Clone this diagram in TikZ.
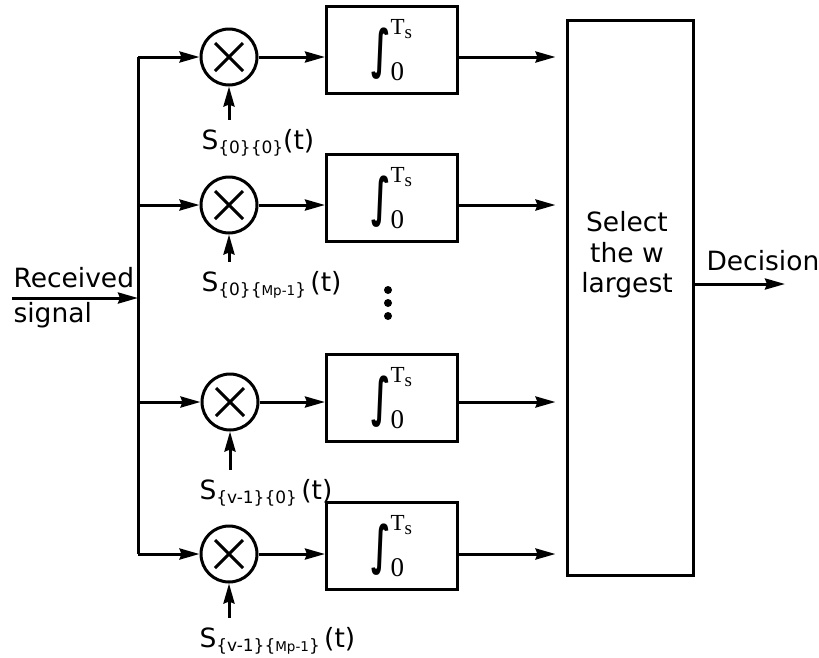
\documentclass[tikz,border=0pt]{standalone}
\usepackage{amsmath}
\usepackage{graphicx}
\usepackage{fontspec}
\setmainfont{DejaVu Sans}
\newfontfamily\limfont{Liberation Serif}
\usetikzlibrary{arrows.meta,calc}

\newcommand{\subfnt}{\fontsize{17}{17}\selectfont}
\newcommand{\subsubfnt}{\fontsize{13.5}{13.5}\selectfont}
\newcommand{\intsign}{\vcenter{\hbox{\scalebox{1.05}[1.75]{\fontsize{30}{30}\selectfont\bfseries ∫}}}}
\newcommand{\intTs}{$\mathop{\intsign}\nolimits_{\hbox{\limfont\fontsize{27}{27}\selectfont 0}}^{\hbox{\limfont\fontsize{23}{23}\selectfont T\raisebox{-0.4ex}{\fontsize{19}{19}\selectfont s}}}$}

\begin{document}
\begin{tikzpicture}[x=1pt,y=-1pt,line width=3pt,
  >={Stealth[length=20pt,width=11pt,inset=2pt]},
  every node/.style={font=\fontsize{26.5}{30.5}\selectfont},
  mixer/.style={draw,circle,minimum size=56pt,inner sep=0pt,
    path picture={\draw[line width=3pt]
      ($(path picture bounding box.center)+(-14pt,-14pt)$) -- ++(28pt,28pt)
      ($(path picture bounding box.center)+(-14pt,14pt)$) -- ++(28pt,-28pt);}},
  intbox/.style={draw,minimum width=131pt,minimum height=87pt,inner sep=0pt},
  lbl/.style={inner sep=0pt}]
  \useasboundingbox (0,0) rectangle (819,657);
  % input and bus
  \coordinate (in) at (12,298);
  \coordinate (rx) at (138,298);
  \node[lbl,anchor=base west] (rcv) at (12,287) {Received};
  \node[lbl,anchor=base west] (sgl) at (12,322) {signal};
  % correlator branches
  \node[mixer] (mul1) at (229,57) {};
  \node[mixer] (mul2) at (229,205) {};
  \node[mixer] (mul3) at (230,402) {};
  \node[mixer] (mul4) at (229,554) {};
  \node[intbox] (int1) at (392,50) {\intTs};
  \node[intbox] (int2) at (392,198) {\intTs};
  \node[intbox] (int3) at (392,398) {\intTs};
  \node[intbox] (int4) at (392,546) {\intTs};
  \node[lbl,anchor=west] (lab1) at (200,143) {S\raisebox{-0.3ex}{\subfnt\{0\}\{0\}}(t)};
  \node[lbl,anchor=west] (lab2) at (200,285) {S\raisebox{-0.3ex}{\subfnt\{0\}\{{\subsubfnt Mp-1}\}}\,(t)};
  \node[lbl,anchor=west] (lab3) at (198,493) {S\raisebox{-0.3ex}{\subfnt\{v-1\}\{0\}}\,(t)};
  \node[lbl,anchor=west] (lab4) at (198,641) {S\raisebox{-0.3ex}{\subfnt\{v-1\}\{{\subsubfnt Mp-1}\}}\,(t)};
  % decision block
  \node[draw,minimum width=126pt,minimum height=555pt,inner sep=0pt] (sel) at (630,297.5) {};
  \node[lbl,align=center] (seltxt) at (627,255) {Select\\the w\\largest};
  \coordinate (out) at (785,284);
  \node[lbl,anchor=base west] (dec) at (705,270) {Decision};
  % dots
  \fill (388,290) circle (4pt) (388,303) circle (4pt) (388,316) circle (4pt);
  % connectors
  \draw[->] (in) -- (rx);
  \draw (rx |- mul1) -- (rx |- mul4);
  \foreach \i in {1,...,4} {
    \draw[->] (rx |- mul\i) -- (mul\i.west);
    \draw[->] (mul\i.east) -- (mul\i -| int\i.west);
    \draw[->,shorten >=10pt] (mul\i -| int\i.east) -- (mul\i -| sel.west);
    \draw[->,shorten <=8pt] (lab\i.north -| mul\i) -- (mul\i.south);
  }
  \draw[->] (out -| sel.east) -- (out);
\end{tikzpicture}
\end{document}
